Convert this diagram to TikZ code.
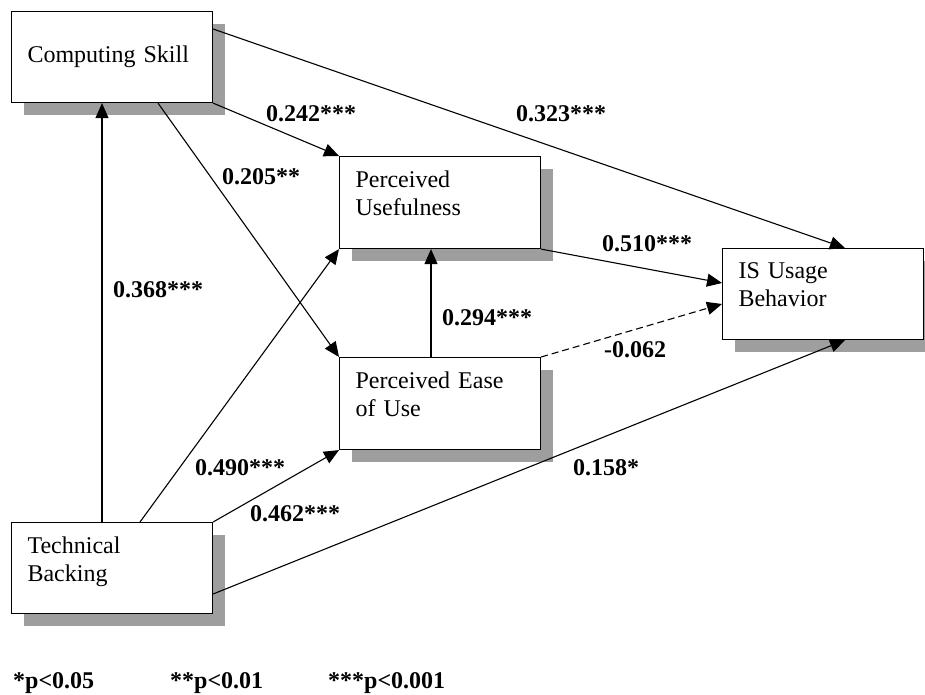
\documentclass[tikz,border=0pt]{standalone}
\usepackage{fontspec}
\setmainfont{Liberation Serif}
\usetikzlibrary{arrows.meta,calc,shadows}
\definecolor{shadowgray}{RGB}{158,158,158}
\tikzset{
  box/.style={draw, line width=1.1pt, fill=white, rectangle, anchor=north west,
    inner xsep=16pt, inner ysep=0pt, text width=169pt, align=left,
    font=\fontsize{24}{28}\selectfont,
    general shadow={fill=shadowgray, shadow xshift=12.5pt, shadow yshift=-12.5pt}},
  onebox/.style={box, text height=51pt, text depth=40pt},
  twobox/.style={box, text height=31pt, text depth=61pt},
  lab/.style={anchor=base west, inner sep=0pt, font=\fontsize{24}{28}\selectfont\bfseries},
  conn/.style={line width=1.1pt, -{Triangle[length=15pt,width=13pt]}},
}
\begin{document}
\begin{tikzpicture}[x=1pt,y=-1pt]
\useasboundingbox (0,0) rectangle (925,695);
% boxes
\node[onebox] (cs) at (11,11) {Computing Skill};
\node[twobox] (pu) at (339,156) {Perceived\\Usefulness};
\node[twobox] (peou) at (339,357) {Perceived Ease\\of Use};
\node[twobox, text height=30pt, text depth=61pt] (is) at (722,248) {IS Usage\\Behavior};
\node[twobox, text depth=60pt] (tb) at (11,522) {Technical\\Backing};
% connectors
\draw[conn] (cs.south east) -- (pu.north west);
\draw[conn] ($(cs.north east)+(0,18)$) -- ($(is.north west)+(123,0)$);
\draw[conn] ($(cs.south west)+(147,0)$) -- (peou.north west);
\draw[conn] ($(tb.north west)+(91,0)$) -- ($(cs.south west)+(91,0)$);
\draw[conn] ($(tb.north west)+(129,0)$) -- (pu.south west);
\draw[conn] (tb.north east) -- (peou.south west);
\draw[conn] ($(tb.north east)+(0,72)$) -- ($(is.south west)+(123,0)$);
\draw[conn] ($(peou.north west)+(92,0)$) -- ($(pu.south west)+(92,0)$);
\draw[conn] (pu.south east) -- ($(is.north west)+(0,35)$);
\draw[conn, dash pattern=on 7pt off 4pt] (peou.north east) -- ($(is.north west)+(0,56)$);
% coefficient labels
\node[lab] (l1) at (266,122) {0.242***};
\node[lab] (l2) at (516,122) {0.323***};
\node[lab] (l3) at (222,185) {0.205**};
\node[lab] (l4) at (113,297) {0.368***};
\node[lab] (l5) at (602,251) {0.510***};
\node[lab] (l6) at (442,325) {0.294***};
\node[lab] (l7) at (604,357) {-0.062};
\node[lab] (l8) at (195,475) {0.490***};
\node[lab] (l9) at (250,521) {0.462***};
\node[lab] (l10) at (573,475) {0.158*};
% footnote
\node[lab] (f1) at (13,688) {*p<0.05};
\node[lab] (f2) at (170,688) {**p<0.01};
\node[lab] (f3) at (328,688) {***p<0.001};
\end{tikzpicture}
\end{document}
